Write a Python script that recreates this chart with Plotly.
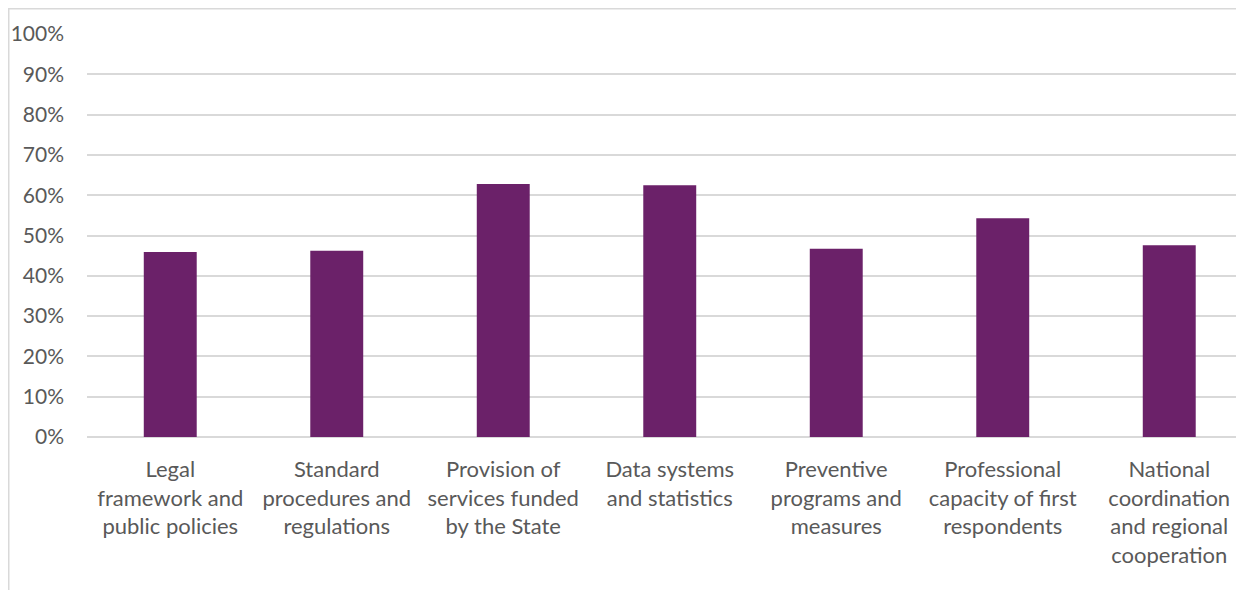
import plotly.graph_objects as go

categories = [
    "Legal<br>framework and<br>public policies",
    "Standard<br>procedures and<br>regulations",
    "Provision of<br>services funded<br>by the State",
    "Data systems<br>and statistics",
    "Preventive<br>programs and<br>measures",
    "Professional<br>capacity of first<br>respondents",
    "National<br>coordination<br>and regional<br>cooperation",
]
values = [0.459, 0.462, 0.628, 0.625, 0.467, 0.543, 0.476]
y_ticks = [0, 0.1, 0.2, 0.3, 0.4, 0.5, 0.6, 0.7, 0.8, 0.9, 1.0]

# page has an 8px body margin, so the figure is sized/offset accordingly
W, H = 1236, 582
ML, MR, MT, MB = 79, 0, 26, 153
pw = W - ML - MR
ph = H - MT - MB

fig = go.Figure()
fig.add_trace(go.Bar(
    x=list(range(len(categories))),
    y=values,
    width=0.318,
    marker=dict(color="#6B2169", line=dict(width=0)),
    hoverinfo="skip",
))

font_family = "Lato, 'Open Sans', sans-serif"
fig.update_layout(
    width=W, height=H,
    margin=dict(l=ML, r=MR, t=MT, b=MB, pad=0),
    paper_bgcolor="white",
    plot_bgcolor="white",
    showlegend=False,
    font=dict(family=font_family, size=22, color="#595959"),
    xaxis=dict(
        range=[-0.5, -0.5 + pw / 166.5],
        tickmode="array",
        tickvals=list(range(len(categories))),
        ticktext=categories,
        showgrid=False,
        zeroline=False,
        showline=False,
        ticks="",
        ticklabelstandoff=17,
        tickfont=dict(family=font_family, size=22, color="#595959"),
    ),
    yaxis=dict(
        range=[0, 1.0],
        tickmode="array",
        tickvals=y_ticks,
        ticktext=[f"{int(round(t*100))}%" for t in y_ticks],
        showgrid=True,
        gridcolor="#D9D9D9",
        gridwidth=1.5,
        zeroline=True,
        zerolinecolor="#D9D9D9",
        zerolinewidth=1.5,
        showline=False,
        ticks="",
        ticklabelstandoff=22,
        tickfont=dict(family=font_family, size=21, color="#595959"),
    ),
    shapes=[
        dict(
            type="rect", xref="paper", yref="paper",
            x0=(0.75 - ML) / pw, x1=(W + 20 - ML) / pw,
            y0=-(H + 20 - MT - ph) / ph, y1=1 + (MT - 0.75) / ph,
            line=dict(color="#D9D9D9", width=1.5),
            fillcolor="rgba(0,0,0,0)",
            layer="below",
        )
    ],
)

fig.write_html("out.html")
